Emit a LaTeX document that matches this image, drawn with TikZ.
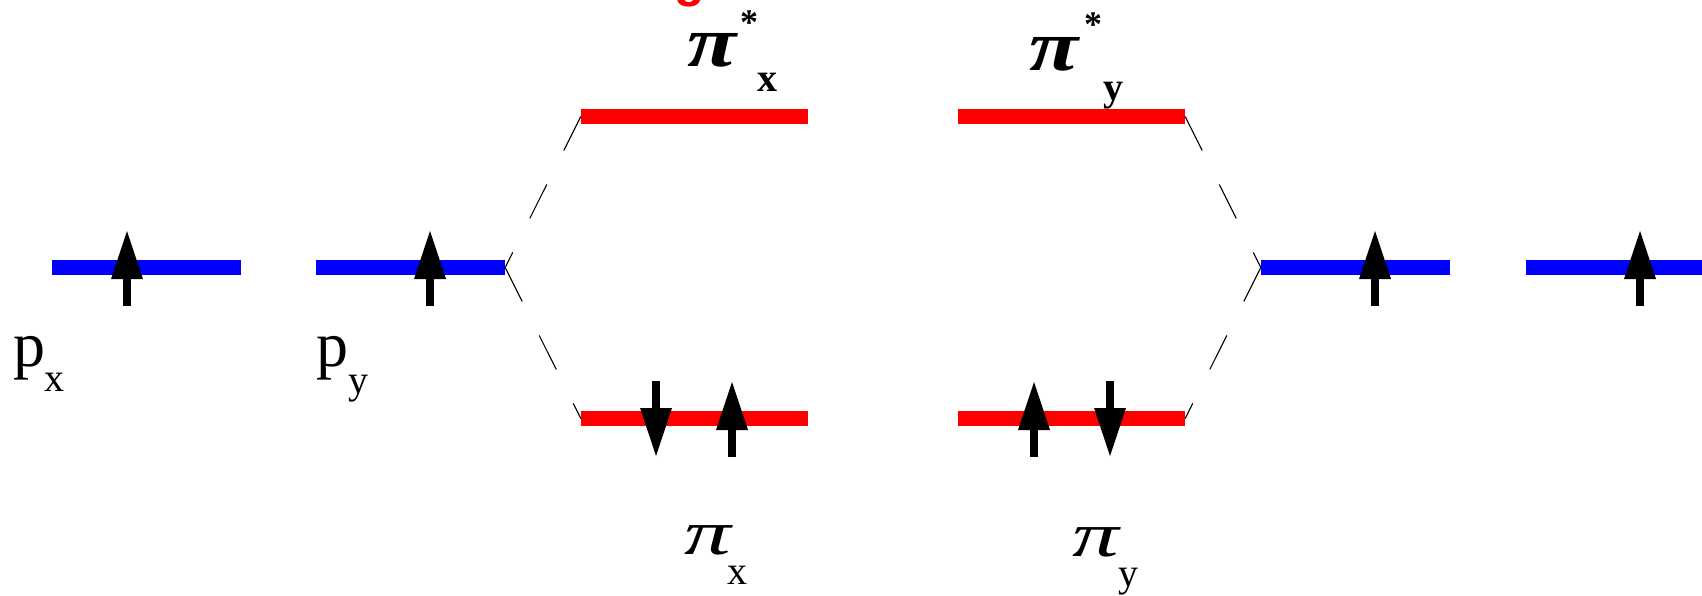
\documentclass[tikz,border=0pt]{standalone}
\usepackage{graphicx}
\usepackage{fontspec}
\setmainfont{Liberation Serif}
\newfontfamily\tagfont{Liberation Sans}
\usetikzlibrary{arrows.meta}

\newcommand{\widepi}[1]{\scalebox{#1}[1]{π}}

\begin{document}
\begin{tikzpicture}[
  x=1pt, y=-1pt,
  ao/.style={fill=blue,inner sep=0pt,minimum width=189pt,minimum height=15pt},
  mo/.style={fill=red,inner sep=0pt,minimum width=227pt,minimum height=15pt},
  corr/.style={line width=1.1pt,dash pattern=on 38pt off 38pt},
  spin/.style={line width=8pt,-{Triangle[length=48pt,width=32pt,line width=0pt]}},
  bigtxt/.style={inner sep=0pt,anchor=north west,font=\fontsize{64}{64}\selectfont},
  subtxt/.style={inner sep=0pt,anchor=north west,font=\fontsize{40}{40}\selectfont}
]
  \clip (0,0) rectangle (1702,595);

  % atomic levels
  \node[ao] (px) at (146.5,267.5) {};
  \node[ao] (py) at (410.5,267.5) {};
  \node[ao] (px2) at (1355.5,267.5) {};
  \node[ao] (py2) at (1620.5,267.5) {};
  % molecular levels
  \node[mo] (pixs) at (694.5,116.5) {};
  \node[mo] (piys) at (1071.5,116.5) {};
  \node[mo] (pix) at (694.5,418.5) {};
  \node[mo] (piy) at (1071.5,418.5) {};

  \draw[corr] (pixs.west) -- (py.east);
  \draw[corr] (py.east) -- (pix.west);
  \draw[corr] (piys.east) -- (px2.west);
  \draw[corr] (px2.west) -- (piy.east);

  % electrons
  \foreach \x in {127,430,1375,1640}
    \draw[spin] (\x,306) -- (\x,231);
  \draw[spin] (656,381) -- (656,456);
  \draw[spin] (732,457) -- (732,382);
  \draw[spin] (1034,457) -- (1034,382);
  \draw[spin] (1110,381) -- (1110,456);

  % labels
  \node[bigtxt] (lpx) at (13,336) {p};
  \node[subtxt] (lpxsub) at (44,373) {x};
  \node[bigtxt] (lpy) at (316,336) {p};
  \node[subtxt] (lpysub) at (348,375) {y};

  \node[bigtxt,font=\fontsize{63}{63}\selectfont\itshape] (lpix) at (684,525) {\widepi{1.48}};
  \node[subtxt] (lpixsub) at (727,566) {x};
  \node[bigtxt,font=\fontsize{63}{63}\selectfont\itshape] (lpiy) at (1072,527) {\widepi{1.48}};
  \node[subtxt] (lpiysub) at (1118,568) {y};

  \node[bigtxt,font=\fontsize{72}{72}\selectfont\bfseries\itshape] (lpixs) at (687,33) {\widepi{1.25}};
  \node[subtxt,font=\fontsize{36}{36}\selectfont\bfseries] (lpixstar) at (740,11) {*};
  \node[subtxt,font=\fontsize{40}{40}\selectfont\bfseries] (lpixssub) at (757,73) {x};
  \node[bigtxt,font=\fontsize{72}{72}\selectfont\bfseries\itshape] (lpiys) at (1029,37) {\widepi{1.25}};
  \node[subtxt,font=\fontsize{36}{36}\selectfont\bfseries] (lpiystar) at (1084,13) {*};
  \node[subtxt,font=\fontsize{40}{40}\selectfont\bfseries] (lpiyssub) at (1103,82) {y};

  \node[inner sep=0pt,anchor=south,text=red,font=\tagfont\bfseries\fontsize{50}{50}\selectfont] (tag) at (690,7) {g};
\end{tikzpicture}
\end{document}
